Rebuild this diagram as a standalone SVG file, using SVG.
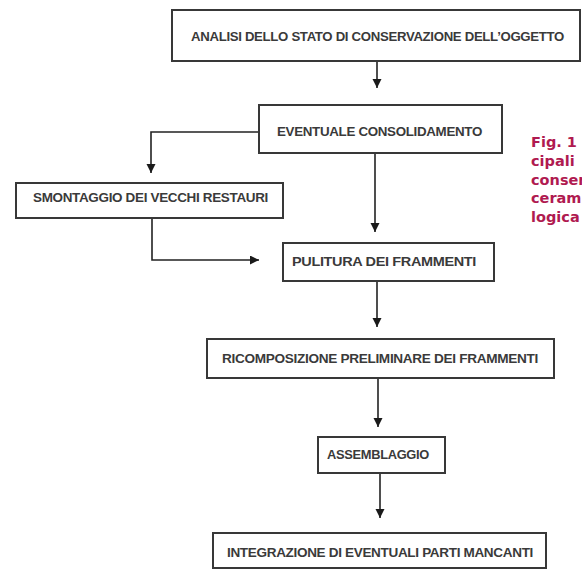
<svg xmlns="http://www.w3.org/2000/svg" width="582" height="570" viewBox="0 0 582 570">
<style>
.box{fill:#fff;stroke:#383838;stroke-width:2}
.lbl{font-family:"Liberation Sans",Arial,sans-serif;font-size:12.5px;fill:#3a3a3a;font-weight:bold;letter-spacing:-0.3px}
.con{fill:none;stroke:#222;stroke-width:1.6}
.cap{font-family:"DejaVu Sans",Verdana,sans-serif;font-size:14.5px;font-weight:bold;fill:#b01a50}
</style>
<defs>
<marker id="ah" markerUnits="userSpaceOnUse" markerWidth="10" markerHeight="10" refX="9" refY="4.5" orient="auto">
<path d="M0,0 L9,4.5 L0,9 Z" fill="#1a1a1a"/>
</marker>
</defs>
<rect width="582" height="570" fill="#fff"/>
<g id="connectors">
<line class="con" x1="377" y1="61" x2="377" y2="88" marker-end="url(#ah)"/>
<polyline class="con" points="259,132 151,132 151,173" marker-end="url(#ah)"/>
<line class="con" x1="375" y1="153" x2="375" y2="232" marker-end="url(#ah)"/>
<polyline class="con" points="152,218 152,260 259,260" marker-end="url(#ah)"/>
<line class="con" x1="377" y1="281" x2="377" y2="327" marker-end="url(#ah)"/>
<line class="con" x1="378" y1="378" x2="378" y2="427" marker-end="url(#ah)"/>
<line class="con" x1="380" y1="473" x2="380" y2="518" marker-end="url(#ah)"/>
</g>
<g id="n1"><rect class="box" x="172" y="10" width="408" height="51"/><text class="lbl" x="191" y="40.5" textLength="373" lengthAdjust="spacingAndGlyphs">ANALISI DELLO STATO DI CONSERVAZIONE DELL’OGGETTO</text></g>
<g id="n2"><rect class="box" x="259" y="105" width="243" height="48"/><text class="lbl" x="277" y="135.5" textLength="205" lengthAdjust="spacingAndGlyphs">EVENTUALE CONSOLIDAMENTO</text></g>
<g id="n3"><rect class="box" x="16" y="183" width="267" height="35"/><text class="lbl" x="33" y="201.5" textLength="235" lengthAdjust="spacingAndGlyphs">SMONTAGGIO DEI VECCHI RESTAURI</text></g>
<g id="n4"><rect class="box" x="283" y="243" width="211" height="38"/><text class="lbl" x="292" y="265.5" textLength="184" lengthAdjust="spacingAndGlyphs">PULITURA DEI FRAMMENTI</text></g>
<g id="n5"><rect class="box" x="207" y="339" width="347" height="39"/><text class="lbl" x="222" y="362.5" textLength="316" lengthAdjust="spacingAndGlyphs">RICOMPOSIZIONE PRELIMINARE DEI FRAMMENTI</text></g>
<g id="n6"><rect class="box" x="318" y="437" width="127" height="36"/><text class="lbl" x="327" y="458.5" textLength="102" lengthAdjust="spacingAndGlyphs">ASSEMBLAGGIO</text></g>
<g id="n7"><rect class="box" x="213" y="533" width="333" height="35"/><text class="lbl" x="227" y="556.5" textLength="306" lengthAdjust="spacingAndGlyphs">INTEGRAZIONE DI EVENTUALI PARTI MANCANTI</text></g>
<g id="caption">
<text class="cap" x="531" y="147">Fig. 1</text>
<text class="cap" x="531" y="166">cipali</text>
<text class="cap" x="531" y="185">conser</text>
<text class="cap" x="531" y="203">ceram</text>
<text class="cap" x="531" y="222">logica</text>
</g>
</svg>
